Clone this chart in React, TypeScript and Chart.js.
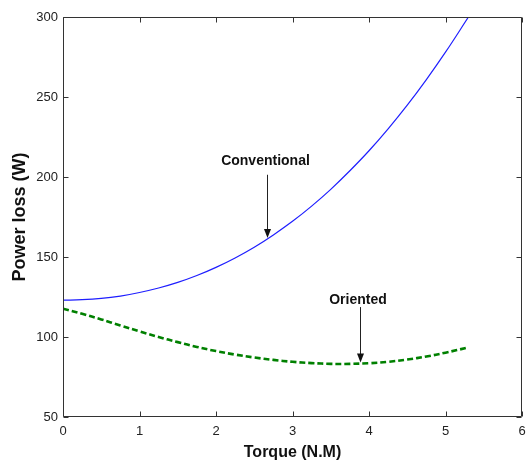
import React, { useEffect, useRef } from "react";
import { Chart, registerables } from "chart.js";

Chart.register(...registerables);

// Data
const torque = [0, 0.25, 0.5, 0.75, 1, 1.25, 1.5, 1.75, 2, 2.25, 2.5, 2.75, 3, 3.25, 3.5, 3.75, 4, 4.25, 4.5, 4.75, 5, 5.3];
const conventional = [123, 123.3, 124.1, 125.6, 127.8, 130.6, 134.1, 138.4, 143.5, 149.4, 156.1, 163.8, 172.3, 181.8, 192.3, 203.9, 216.4, 230.1, 244.9, 260.9, 278, 300];
const oriented = [117.7, 114.5, 111, 107.2, 103.5, 100, 96.8, 93.8, 91.2, 89, 87.2, 85.7, 84.5, 83.7, 83.2, 83.2, 83.6, 84.5, 85.9, 87.8, 90.2, 93.5];

const xTicks = [0, 1, 2, 3, 4, 5, 6];
const yTicks = [50, 100, 150, 200, 250, 300];

const xTitle = "Torque (N.M)";
const yTitle = "Power loss (W)";

// annotation: label, text center x, text baseline y, arrow x, arrow start y, arrow tip y (data units)
const annotationLabels = ["Conventional", "Oriented"];
const annotationTextX = [2.647, 3.856];
const annotationTextY = [207.7, 120.6];
const annotationArrowX = [2.67, 3.88];
const annotationArrowFrom = [201.4, 118.7];
const annotationArrowTo = [161.9, 84.1];

const FONT = '"Liberation Sans", Arial, sans-serif';

const framePlugin = {
  id: "matlabFrame",
  afterDraw(chart: any) {
    const { ctx, chartArea: a, scales } = chart;
    const xs = scales.x;
    const ys = scales.y;
    ctx.save();
    ctx.strokeStyle = "#333";
    ctx.lineWidth = 1;
    ctx.beginPath();
    const L = Math.round(a.left) + 0.5;
    const R = Math.round(a.right) - 0.5;
    const T = Math.round(a.top) + 0.5;
    const B = Math.round(a.bottom) - 0.5;
    ctx.rect(L, T, R - L, B - T);
    const tl = 5;
    xTicks.forEach((v) => {
      const px = Math.round(xs.getPixelForValue(v)) + 0.5;
      ctx.moveTo(px, B);
      ctx.lineTo(px, B - tl);
      ctx.moveTo(px, T);
      ctx.lineTo(px, T + tl);
    });
    yTicks.forEach((v) => {
      const py = Math.round(ys.getPixelForValue(v)) + 0.5;
      ctx.moveTo(L, py);
      ctx.lineTo(L + tl, py);
      ctx.moveTo(R, py);
      ctx.lineTo(R - tl, py);
    });
    ctx.stroke();

    // axis titles
    ctx.fillStyle = "#111";
    ctx.textAlign = "center";
    ctx.textBaseline = "alphabetic";
    ctx.font = `bold 16px ${FONT}`;
    ctx.fillText(xTitle, (a.left + a.right) / 2, 457);
    ctx.save();
    ctx.translate(25, (a.top + a.bottom) / 2);
    ctx.rotate(-Math.PI / 2);
    ctx.font = `bold 18px ${FONT}`;
    ctx.fillText(yTitle, 0, 0);
    ctx.restore();

    // annotations
    ctx.font = `bold 14px ${FONT}`;
    annotationLabels.forEach((lab, i) => {
      const tx = xs.getPixelForValue(annotationTextX[i]);
      const ty = ys.getPixelForValue(annotationTextY[i]);
      ctx.fillStyle = "#111";
      ctx.fillText(lab, tx, ty);
      const ax = Math.round(xs.getPixelForValue(annotationArrowX[i])) + 0.5;
      const y0 = ys.getPixelForValue(annotationArrowFrom[i]);
      const y1 = ys.getPixelForValue(annotationArrowTo[i]);
      ctx.strokeStyle = "#222";
      ctx.lineWidth = 1;
      ctx.beginPath();
      ctx.moveTo(ax, y0);
      ctx.lineTo(ax, y1 - 6);
      ctx.stroke();
      ctx.fillStyle = "#111";
      ctx.beginPath();
      ctx.moveTo(ax - 3.5, y1 - 9);
      ctx.lineTo(ax + 3.5, y1 - 9);
      ctx.lineTo(ax, y1);
      ctx.closePath();
      ctx.fill();
    });
    ctx.restore();
  },
};

export default function App() {
  const ref = useRef<HTMLCanvasElement | null>(null);
  useEffect(() => {
    document.body.style.margin = "0";
    const canvas = ref.current;
    if (!canvas) return;
    const chart = new Chart(canvas, {
      type: "line",
      data: {
        datasets: [
          {
            label: "Conventional",
            data: torque.map((t, i) => ({ x: t, y: conventional[i] })),
            borderColor: "rgb(30,30,255)",
            borderWidth: 1.2,
            pointRadius: 0,
            tension: 0.4,
            fill: false,
          },
          {
            label: "Oriented",
            data: torque.map((t, i) => ({ x: t, y: oriented[i] })),
            borderColor: "rgb(0,128,0)",
            borderWidth: 2.6,
            borderDash: [6, 3],
            pointRadius: 0,
            tension: 0.4,
            fill: false,
          },
        ],
      },
      options: {
        responsive: false,
        animation: false,
        devicePixelRatio: 1,
        layout: { padding: { top: 17, right: 6, left: 0, bottom: 0 } },
        plugins: { legend: { display: false }, tooltip: { enabled: false } },
        scales: {
          x: {
            type: "linear",
            min: 0,
            max: 6,
            afterBuildTicks: (s: any) => {
              s.ticks = xTicks.map((v) => ({ value: v }));
            },
            afterFit: (s: any) => {
              s.height = 45;
              s.paddingLeft = 0;
              s.paddingRight = 0;
            },
            ticks: { color: "#222", font: { family: FONT, size: 13 }, padding: 7, maxRotation: 0 },
            grid: { display: false, drawTicks: false },
            border: { display: false },
          },
          y: {
            type: "linear",
            min: 50,
            max: 300,
            afterBuildTicks: (s: any) => {
              s.ticks = yTicks.map((v) => ({ value: v }));
            },
            afterFit: (s: any) => {
              s.width = 63;
              s.paddingTop = 0;
              s.paddingBottom = 0;
            },
            ticks: { color: "#222", font: { family: FONT, size: 13 }, padding: 5 },
            grid: { display: false, drawTicks: false },
            border: { display: false },
          },
        },
      },
      plugins: [framePlugin],
    } as any);
    return () => chart.destroy();
  }, []);
  return (
    <div style={{ width: 528, height: 462, background: "#fff" }}>
      <canvas ref={ref} width={528} height={462} style={{ display: "block" }} />
    </div>
  );
}
